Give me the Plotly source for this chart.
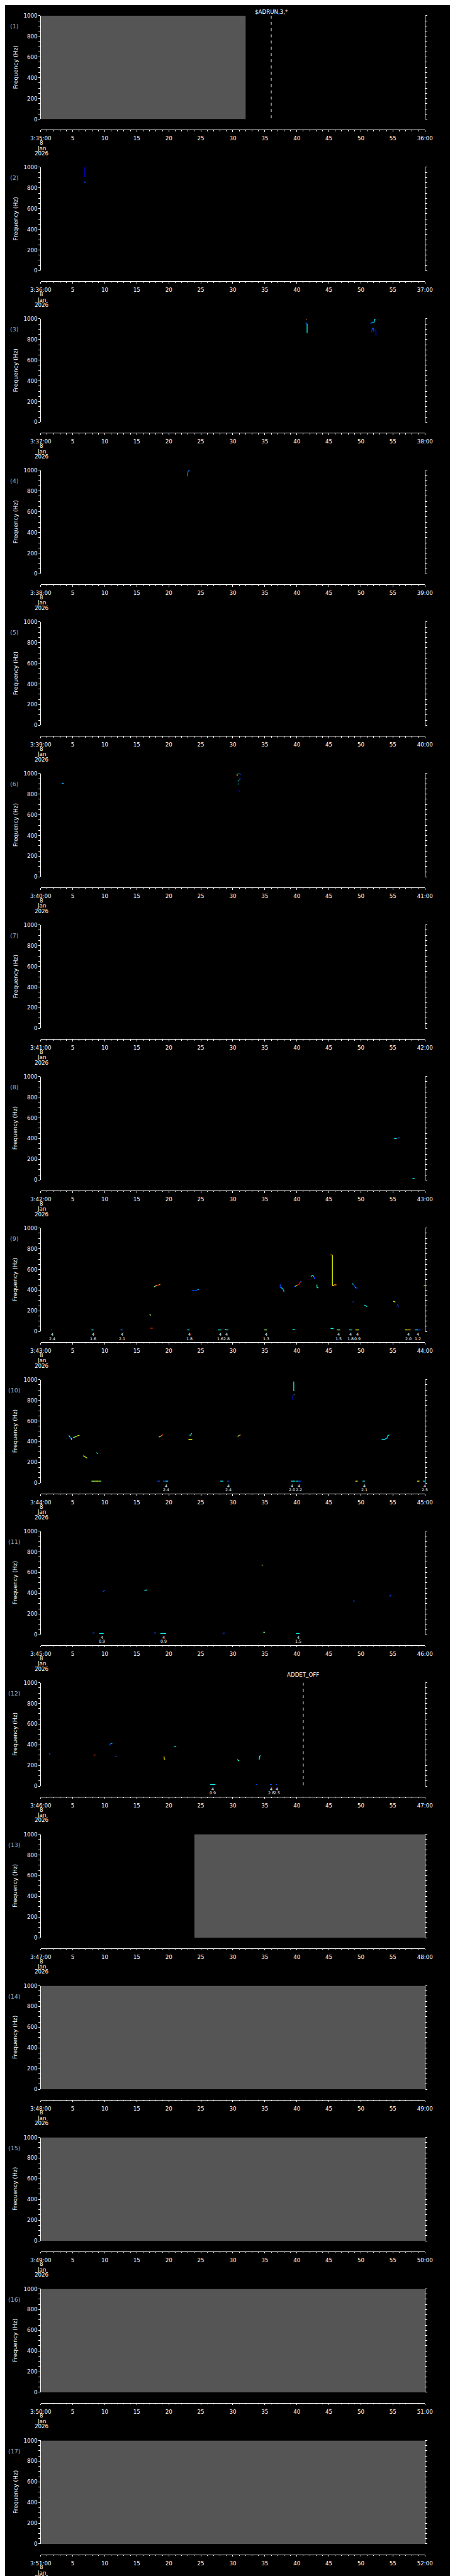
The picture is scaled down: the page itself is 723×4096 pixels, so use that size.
import plotly.graph_objects as go
from plotly.colors import sample_colorscale

# ---------------------------------------------------------------- data
PANEL_START_MINUTE = list(range(35, 52))          # panels (1)..(17): 3:35 .. 3:51, 8 Jan 2026
DATE_LINES = ["8", "Jan", "2026"]
Y_TICKS = [0, 200, 400, 600, 800, 1000]
X_MAJOR = list(range(0, 61, 5))

# grey "no data" spans (panel index, t0, t1) seconds
GRAY_SPANS = [(0, 0, 32), (12, 24, 60), (13, 0, 60), (14, 0, 60), (15, 0, 60), (16, 0, 60)]

# event markers (panel index, seconds, text)
EVENTS = [(0, 36.0, "$ADRUN,3,*"), (11, 41.0, "ADDET_OFF")]

# tracks: lists of (seconds, frequency Hz, colour value 0..1 on a jet scale)
P02_TRACKS = [
    [(6.9, 1000, 0.12), (6.9, 908, 0.12)],
    [(6.9, 862, 0.22), (6.9, 848, 0.22)],
]
P03_TRACKS = [
    [(41.4, 998, 0.75), (41.6, 998, 0.75)],
    [(41.35, 962, 0.2), (41.5, 952, 0.2), (41.6, 952, 0.36), (41.6, 863, 0.36)],
    [(51.5, 950, 0.2), (51.7, 967, 0.3), (52.1, 967, 0.36), (52.1, 998, 0.36), (52.4, 998, 0.36)],
    [(51.65, 870, 0.15), (51.75, 899, 0.22), (51.9, 912, 0.22), (52.0, 892, 0.15), (52.0, 870, 0.15)],
    [(52.15, 892, 0.15), (52.35, 889, 0.12), (52.35, 835, 0.12)],
]
P04_TRACKS = [
    [(22.9, 942, 0.25), (22.95, 975, 0.25), (23.05, 995, 0.25), (23.25, 999, 0.25)],
]
P06_TRACKS = [
    [(3.3, 903, 0.3), (3.6, 903, 0.3)],
    [(30.68, 996, 0.75), (30.68, 974, 0.75)],
    [(30.77, 999, 0.36), (31.04, 999, 0.36)],
    [(31.04, 999, 0.2), (31.2, 986, 0.2)],
    [(31.15, 957, 0.2), (31.05, 934, 0.2)],
    [(30.77, 928, 0.36), (30.95, 928, 0.36)],
    [(30.8, 898, 0.36), (30.95, 898, 0.36)],
    [(30.9, 838, 0.1), (31.05, 824, 0.1)],
]
P08_TRACKS = [
    [(55.2, 400, 0.36), (55.6, 400, 0.36)],
    [(55.7, 405, 0.2), (56.1, 410, 0.2)],
    [(58.05, 16, 0.36), (58.25, 14, 0.36), (58.4, 11, 0.2)],
]
P09_TRACKS = [
    [(17.67, 430, 0.5), (17.9, 440, 0.75), (18.2, 447, 0.85), (18.45, 451, 0.75), (18.67, 456, 0.85)],
    [(17.0, 166, 0.55), (17.2, 156, 0.5)],
    [(17.1, 33, 0.85), (17.5, 33, 0.2)],
    [(23.57, 397, 0.2), (24.25, 397, 0.2), (24.5, 403, 0.3), (24.7, 406, 0.36)],
    [(37.4, 456, 0.2), (37.4, 423, 0.2), (37.57, 423, 0.36), (37.8, 416, 0.3), (38.0, 384, 0.2)],
    [(39.56, 430, 0.2), (39.75, 437, 0.55), (39.97, 444, 0.85), (40.2, 453, 0.9), (40.43, 461, 0.85),
     (40.56, 483, 0.2), (40.74, 483, 0.2)],
    [(42.28, 527, 0.36), (42.33, 541, 0.36), (42.56, 541, 0.36), (42.65, 530, 0.2), (42.8, 506, 0.2)],
    [(43.14, 454, 0.4), (43.14, 423, 0.4), (43.37, 423, 0.2)],
    [(45.18, 740, 0.8), (45.46, 740, 0.85), (45.55, 740, 0.64), (45.55, 444, 0.64), (45.82, 444, 0.85),
     (45.82, 451, 0.75), (46.18, 451, 0.75)],
    [(48.63, 464, 0.36), (48.8, 456, 0.2), (49.04, 437, 0.2), (49.13, 427, 0.36), (49.26, 420, 0.2),
     (49.44, 420, 0.2)],
    [(48.72, 290, 0.2), (48.9, 284, 0.36)],
    [(50.53, 256, 0.36), (50.75, 249, 0.36), (50.98, 241, 0.55)],
    [(55.06, 294, 0.64), (55.38, 284, 0.64)],
    [(55.7, 261, 0.2), (55.88, 241, 0.2)],
    [(59.78, 437, 0.2), (59.9, 447, 0.64), (60.2, 447, 0.75), (60.5, 449, 0.36)],
    # low-frequency blips
    [(1.59, 16, 0.2), (1.77, 16, 0.2)],
    [(7.93, 16, 0.36), (8.25, 16, 0.36)],
    [(12.46, 16, 0.25), (12.78, 16, 0.36)],
    [(22.89, 16, 0.36), (23.25, 16, 0.36)],
    [(27.65, 16, 0.36), (28.2, 16, 0.5)],
    [(28.73, 20, 0.5), (29.0, 16, 0.36), (29.32, 16, 0.36)],
    [(34.9, 16, 0.55), (35.35, 16, 0.55)],
    [(39.3, 20, 0.36), (39.75, 16, 0.36)],
    [(45.27, 30, 0.36), (45.73, 30, 0.2)],
    [(46.23, 16, 0.55), (46.77, 16, 0.55)],
    [(48.13, 16, 0.36), (48.63, 16, 0.36)],
    [(49.13, 16, 0.64), (49.72, 16, 0.64)],
    [(56.88, 16, 0.64), (57.3, 16, 0.72), (57.78, 16, 0.2)],
    [(58.42, 16, 0.36), (58.9, 16, 0.2), (59.32, 16, 0.2)],
]
P10_TRACKS = [
    [(4.4, 461, 0.36), (4.62, 440, 0.2), (4.85, 418, 0.2)],
    [(4.75, 433, 0.64), (4.85, 420, 0.64)],
    [(5.0, 433, 0.2), (5.08, 437, 0.5), (5.39, 447, 0.6), (5.76, 457, 0.64), (5.98, 461, 0.2), (6.12, 461, 0.2)],
    [(6.66, 265, 0.64), (6.9, 255, 0.6), (7.25, 241, 0.2)],
    [(8.7, 294, 0.36), (8.93, 284, 0.2)],
    [(7.93, 19, 0.55), (8.5, 19, 0.64), (9.0, 19, 0.5), (9.47, 19, 0.3)],
    [(18.45, 444, 0.5), (18.7, 451, 0.75), (18.9, 459, 0.85), (19.1, 470, 0.2)],
    [(18.2, 19, 0.2), (18.6, 19, 0.2)],
    [(19.1, 19, 0.2), (19.5, 19, 0.36), (19.9, 19, 0.2)],
    [(23.07, 423, 0.64), (23.66, 423, 0.64)],
    [(23.25, 466, 0.3), (23.35, 459, 0.5), (23.45, 466, 0.36), (23.57, 483, 0.2)],
    [(28.05, 19, 0.36), (28.5, 19, 0.36)],
    [(29.1, 19, 0.2), (29.45, 19, 0.2)],
    [(30.68, 444, 0.2), (30.85, 453, 0.64), (31.0, 461, 0.75), (31.22, 466, 0.64)],
    [(39.52, 981, 0.36), (39.52, 888, 0.36)],
    [(39.52, 855, 0.5), (39.58, 852, 0.5)],
    [(39.38, 852, 0.15), (39.38, 802, 0.15)],
    [(39.07, 19, 0.36), (39.75, 19, 0.36)],
    [(39.88, 19, 0.36), (40.2, 19, 0.2), (40.65, 19, 0.2)],
    [(49.13, 19, 0.64), (49.5, 19, 0.64)],
    [(50.26, 19, 0.36), (50.62, 19, 0.2)],
    [(53.25, 423, 0.36), (53.8, 423, 0.36), (53.8, 430, 0.3), (54.07, 430, 0.3), (54.16, 458, 0.36),
     (54.47, 466, 0.36)],
    [(58.78, 19, 0.64), (59.14, 19, 0.64)],
    [(59.69, 19, 0.36), (60.37, 19, 0.36)],
]
P11_TRACKS = [
    [(9.7, 417, 0.2), (10.05, 428, 0.36)],
    [(16.2, 425, 0.36), (16.65, 433, 0.5)],
    [(34.5, 672, 0.6), (34.7, 672, 0.4)],
    [(48.8, 330, 0.2), (49.0, 318, 0.2)],
    [(54.5, 368, 0.2), (54.7, 385, 0.3)],
    [(8.1, 16, 0.2), (8.4, 16, 0.2)],
    [(9.15, 11, 0.36), (9.83, 11, 0.36)],
    [(17.67, 16, 0.2), (18.0, 16, 0.2)],
    [(18.67, 11, 0.36), (19.58, 11, 0.36)],
    [(28.4, 14, 0.2), (28.73, 14, 0.2)],
    [(34.76, 23, 0.5), (35.03, 23, 0.5)],
    [(39.88, 11, 0.36), (40.43, 11, 0.36)],
]
P12_TRACKS = [
    [(1.3, 316, 0.2), (1.5, 304, 0.85)],
    [(8.25, 301, 0.85), (8.55, 301, 0.85)],
    [(10.74, 393, 0.2), (10.9, 410, 0.3), (11.2, 416, 0.25)],
    [(11.65, 290, 0.2), (11.83, 284, 0.2)],
    [(19.26, 290, 0.72), (19.26, 266, 0.64), (19.42, 259, 0.5)],
    [(20.8, 384, 0.36), (21.17, 384, 0.36)],
    [(30.7, 257, 0.4), (31.0, 243, 0.5)],
    [(34.12, 256, 0.36), (34.2, 293, 0.36), (34.35, 293, 0.36)],
    [(26.47, 16, 0.36), (27.28, 16, 0.36)],
    [(33.6, 16, 0.2), (33.76, 16, 0.2)],
    [(35.8, 16, 0.2), (36.1, 16, 0.2)],
    [(36.7, 16, 0.2), (36.9, 16, 0.2)],
]
PANEL_TRACKS = {1: P02_TRACKS, 2: P03_TRACKS, 3: P04_TRACKS, 5: P06_TRACKS, 7: P08_TRACKS,
                8: P09_TRACKS, 9: P10_TRACKS, 10: P11_TRACKS, 11: P12_TRACKS}

# detections drawn just past the right edge of the time axis (panel index, seconds, Hz, colour value)
OUTSIDE_POINTS = [(7, 61.7, 11, 0.15), (10, 61.3, 313, 0.2)]

# detection labels below the plots: first line "4", second line value
LABEL_FIRST = "4"
P08_LABELS = [(61.7, "2.4")]
P09_LABELS = [(1.8, "2.4"), (8.2, "1.6"), (12.7, "2.1"), (23.2, "1.8"), (28.0, "1.6"), (29.0, "2.8"),
              (35.2, "1.3"), (46.5, "1.5"), (48.4, "1.8"), (49.5, "0.9"), (57.4, "2.0"), (58.9, "1.2")]
P10_LABELS = [(19.6, "2.4"), (29.3, "2.4"), (39.2, "2.0"), (40.3, "2.2"), (50.5, "2.1"), (60.0, "2.5")]
P11_LABELS = [(9.6, "0.9"), (19.2, "0.9"), (40.2, "1.5")]
P12_LABELS = [(26.9, "0.9"), (36.0, "2.8"), (36.9, "2.5")]
PANEL_LABELS = {7: P08_LABELS, 8: P09_LABELS, 9: P10_LABELS, 10: P11_LABELS, 11: P12_LABELS}

# ---------------------------------------------------------------- layout constants (reference pixels)
W, H = 723, 4096
SCALE = W / 1024.0
H_REF = H / SCALE
PITCH = 341.29
PLOT_TOP, PLOT_BOTTOM, XAXIS_Y = 24.0, 257.0, 281.0
X_LEFT, X_RIGHT = 80.3, 945.0
FONT = "DejaVu Sans"
TICK_SIZE = 8.7
SMALL_SIZE = 6.3
GRAY = "#555555"

JET = [[0.0, "rgb(0,0,128)"], [0.11, "rgb(0,0,255)"], [0.125, "rgb(0,0,255)"],
       [0.34, "rgb(0,219,255)"], [0.375, "rgb(20,255,226)"], [0.64, "rgb(238,255,8)"],
       [0.66, "rgb(255,236,0)"], [0.89, "rgb(255,18,0)"], [0.91, "rgb(228,0,0)"], [1.0, "rgb(128,0,0)"]]


def py(yref):
    return 1.0 - yref / H_REF


def px(xref):
    return xref / 1024.0


def sfx(k):
    return "" if k == 0 else str(k + 1)


fig = go.Figure()
layout = dict(
    width=W, height=H, template="none",
    paper_bgcolor="black", plot_bgcolor="black",
    margin=dict(l=0, r=0, t=0, b=0, pad=0),
    showlegend=False, font=dict(family=FONT, color="white", size=TICK_SIZE),
)
annotations = []
shapes = []

for k, minute in enumerate(PANEL_START_MINUTE):
    s = sfx(k)
    off = k * PITCH
    # an empty trace so that every subplot (even one without detections) gets its axes drawn
    fig.add_trace(go.Scatter(x=[], y=[], mode="lines", xaxis="x" + s, yaxis="y" + s, hoverinfo="skip"))
    ticktext = [f"3:{minute:02d}:00"] + [str(v) for v in X_MAJOR[1:-1]] + [f"{minute + 1:02d}:00"]
    layout["xaxis" + s] = dict(
        domain=[px(X_LEFT), px(X_RIGHT)], range=[0, 60], anchor="free",
        position=py(XAXIS_Y + off), automargin=False,
        showline=True, linecolor="white", linewidth=1, showgrid=False, zeroline=False,
        tickmode="array", tickvals=X_MAJOR, ticktext=ticktext,
        ticks="outside", ticklen=2.4, tickwidth=1, tickcolor="white",
        tickfont=dict(family=FONT, size=TICK_SIZE, color="white"), ticklabelstandoff=3,
        minor=dict(dtick=1, ticks="outside", ticklen=1.3, tickwidth=1, tickcolor="white", showgrid=False),
        fixedrange=True,
    )
    layout["yaxis" + s] = dict(
        domain=[py(PLOT_BOTTOM + off), py(PLOT_TOP + off)], range=[0, 1000], anchor="x" + s,
        automargin=False, showline=True, linecolor="white", linewidth=1, mirror="ticks",
        showgrid=False, zeroline=False,
        tickmode="array", tickvals=Y_TICKS, ticktext=[str(v) for v in Y_TICKS],
        ticks="outside", ticklen=2.4, tickwidth=1, tickcolor="white",
        tickfont=dict(family=FONT, size=TICK_SIZE, color="white"),
        minor=dict(dtick=50, ticks="outside", ticklen=2.4, tickwidth=1, tickcolor="white", showgrid=False),
        fixedrange=True,
    )
    # panel number and axis title
    annotations.append(dict(x=px(21), y=py(47.7 + off), xref="paper", yref="paper", text=f"({k + 1})",
                            showarrow=False, font=dict(family=FONT, size=9.5, color="#aaaaaa"),
                            xanchor="center", yanchor="middle"))
    annotations.append(dict(x=px(23), y=py(140.5 + off), xref="paper", yref="paper", text="Frequency (Hz)",
                            textangle=-90, showarrow=False, font=dict(family=FONT, size=9.2, color="white"),
                            xanchor="center", yanchor="middle"))
    for line, yy in zip(DATE_LINES, (310.0, 322.3, 334.0)):
        annotations.append(dict(x=px(81.8), y=py(yy + off), xref="paper", yref="paper", text=line,
                                showarrow=False, font=dict(family=FONT, size=TICK_SIZE, color="white"),
                                xanchor="center", yanchor="middle"))

# grey spans
for k, t0, t1 in GRAY_SPANS:
    s = sfx(k)
    shapes.append(dict(type="rect", xref="x" + s, yref="y" + s, x0=t0, x1=t1, y0=0, y1=1000,
                       fillcolor=GRAY, line=dict(width=0), layer="below"))

# event lines and labels
EVENT_TEXT_Y = {0: 15.7, 11: 6.5}
for k, t, text in EVENTS:
    s = sfx(k)
    shapes.append(dict(type="line", xref="x" + s, yref="y" + s, x0=t, x1=t, y0=1000, y1=0,
                       line=dict(color="white", width=1, dash="4.7px,5.2px")))
    annotations.append(dict(x=t, y=py(EVENT_TEXT_Y[k] + k * PITCH), xref="x" + s, yref="paper", text=text,
                            showarrow=False, font=dict(family=FONT, size=TICK_SIZE, color="white"),
                            xanchor="center", yanchor="middle"))

# tracks, grouped by colour
for k, tracks in PANEL_TRACKS.items():
    s = sfx(k)
    groups = {}
    for tr in tracks:
        for (t0, f0, c0), (t1, f1, c1) in zip(tr[:-1], tr[1:]):
            col = sample_colorscale(JET, [c0])[0]
            g = groups.setdefault(col, ([], []))
            g[0].extend([t0, t1, None])
            g[1].extend([f0, f1, None])
    for col, (xs, ys) in groups.items():
        fig.add_trace(go.Scatter(x=xs, y=ys, mode="lines", line=dict(color=col, width=1.3),
                                 xaxis="x" + s, yaxis="y" + s, hoverinfo="skip"))

for k, t, f, c in OUTSIDE_POINTS:
    s = sfx(k)
    fig.add_trace(go.Scatter(x=[t], y=[f], mode="markers", cliponaxis=False,
                             marker=dict(symbol="square", size=2.5, color=sample_colorscale(JET, [c])[0]),
                             xaxis="x" + s, yaxis="y" + s, hoverinfo="skip"))

# detection labels
for k, labels in PANEL_LABELS.items():
    s = sfx(k)
    off = k * PITCH
    for t, val in labels:
        for text, yy in ((LABEL_FIRST, 262.5), (val, 272.3)):
            annotations.append(dict(x=t, y=py(yy + off), xref="x" + s, yref="paper", text=text,
                                    showarrow=False, font=dict(family=FONT, size=SMALL_SIZE, color="white"),
                                    xanchor="center", yanchor="middle"))

layout["annotations"] = annotations
layout["shapes"] = shapes
fig.update_layout(**layout)
fig.write_html("out.html")
